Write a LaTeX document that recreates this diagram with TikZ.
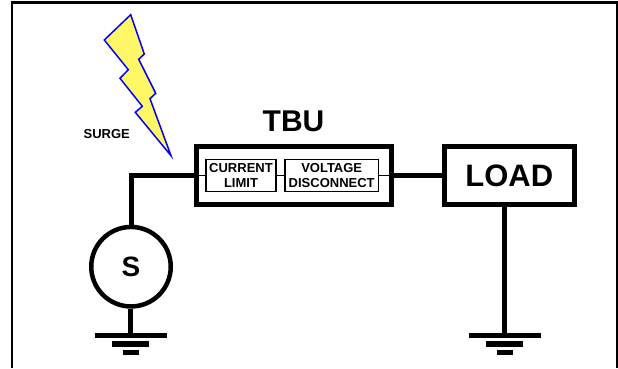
\documentclass[tikz,border=0pt]{standalone}
\usepackage{fontspec}
\setmainfont{Liberation Sans}
\usepackage{tikz}
\tikzstyle{bigbox}=[rectangle, draw, line width=5pt, inner sep=0pt]
\tikzstyle{smallbox}=[rectangle, draw, line width=1.6pt, inner sep=0pt, minimum height=32pt, align=center, font=\fontsize{13}{13}\selectfont\bfseries]
\tikzstyle{wire}=[line width=5pt]
\tikzstyle{thinwire}=[line width=1pt]

\begin{document}
\begin{tikzpicture}[x=1pt, y=-1pt]
    \useasboundingbox (0,0) rectangle (618,368);

    %%%%% frame
    \draw[line width=1.6pt] (12,368) -- (12,2.5);
    \draw[line width=1.2pt] (617,368) -- (617,2.5);
    \draw[line width=2.4pt] (11.2,2.5) -- (617.6,2.5);

    %%%%% surge
    \draw[line width=1.5pt, blue, fill=yellow!60, line join=miter] (130.7,14.7) -- (144.3,54) -- (138.7,59.3) -- (155.7,93.3) -- (150,98.7) -- (171,155.7) -- (135.3,112.3) -- (142.3,106.3) -- (120,78.3) -- (128.3,69.7) -- (104.3,40) -- cycle;
    \node[font=\fontsize{13}{13}\selectfont\bfseries] (surge) at (106.7,134) {SURGE};

    %%%%% TBU
    \node[font=\fontsize{30}{30}\selectfont\bfseries] (title) at (293.5,121.5) {TBU};
    \node[bigbox, minimum width=195pt, minimum height=58.5pt] (tbu) at (293.5,175.5) {};
    \node[smallbox, minimum width=70.5pt] (current) at (241,175.5) {CURRENT\\[2.5pt]LIMIT};
    \node[smallbox, minimum width=93.5pt] (voltage) at (331.7,175.5) {VOLTAGE\\[2.5pt]DISCONNECT};
    \draw[thinwire] (tbu.west) -- (current.west);
    \draw[thinwire] (current.east) -- (voltage.west);
    \draw[thinwire] (voltage.east) -- (tbu.east);

    %%%%% LOAD
    \node[bigbox, minimum width=130.5pt, minimum height=58pt, font=\fontsize{31}{31}\selectfont\bfseries] (load) at (509.25,175.5) {LOAD};
    \draw[wire] (tbu.east) -- (load.west);

    %%%%% S
    \node[circle, draw, line width=4.5pt, inner sep=0pt, minimum size=79.5pt, font=\fontsize{28}{28}\selectfont\bfseries] (src) at (131,266.7) {S};
    \draw[wire, line join=miter] (tbu.west) -| (src.north);

    %%%%% grounds
    \coordinate (gnd1) at (130.5,335.5);
    \coordinate (gnd2) at (504.7,335.5);
    \draw[wire] (src.south -| gnd1) -- (gnd1);
    \draw[wire] (load.south -| gnd2) -- (gnd2);
    \foreach \g in {gnd1,gnd2} {
        \draw[wire] ([xshift=-36pt]\g) -- ([xshift=36pt]\g);
        \draw[line width=6pt] ([xshift=-18.7pt, yshift=-8.5pt]\g) -- ([xshift=18.7pt, yshift=-8.5pt]\g);
        \draw[wire] ([xshift=-8pt, yshift=-17pt]\g) -- ([xshift=8pt, yshift=-17pt]\g);
    }
\end{tikzpicture}
\end{document}
